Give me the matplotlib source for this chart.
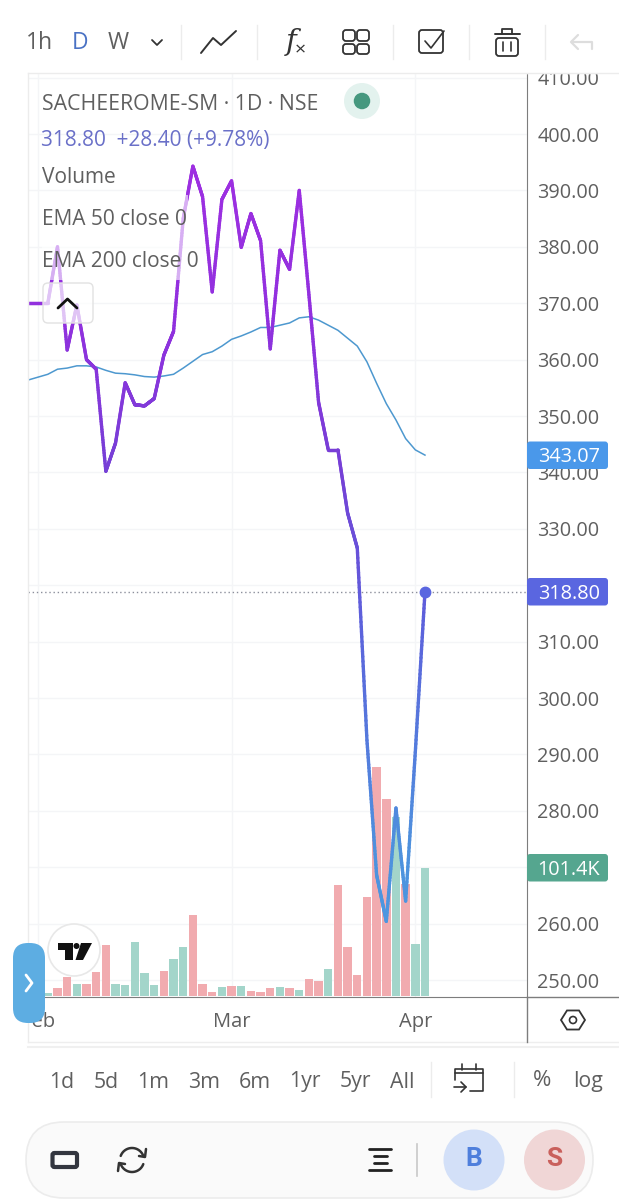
import numpy as np
import matplotlib
matplotlib.use("Agg")
import matplotlib.pyplot as plt
from matplotlib.collections import LineCollection
from matplotlib.colors import LinearSegmentedColormap
from matplotlib.patches import Circle, Ellipse, FancyBboxPatch, Polygon, Rectangle

plt.rcParams['font.family'] = ['Open Sans', 'Noto Sans', 'DejaVu Sans']

W, H = 619, 1200

# trading day index, 0 is the last bar
price_days = np.arange(-41, 1)
close = [370, 370, 370, 380, 361.7, 369.7, 360, 358.3, 340.2, 345.2, 355.9, 352, 351.8, 353.1,
         360.8, 365, 385, 394.3, 388.9, 372, 388.4, 391.7, 379.9, 385.9, 381.1, 361.9, 379.4,
         376, 390, 371.5, 352.4, 344, 344, 332.8, 326.6, 292.5, 268.6, 260.4, 280.5, 264,
         290.4, 318.8]
ema = [356.4, 356.9, 357.4, 358.3, 358.5, 358.9, 358.9, 358.7, 358.1, 357.6, 357.5, 357.3, 357,
       356.9, 357.1, 357.4, 358.5, 359.7, 360.9, 361.4, 362.4, 363.6, 364.2, 364.9, 365.7, 365.7,
       366.1, 366.5, 367.4, 367.6, 367, 366.1, 365.2, 363.8, 362.4, 359.6, 355.8, 352.2, 349.3,
       346, 344, 343.07]

volume_days = np.arange(-39, 1)
volume_k = [2.6, 6.1, 15.3, 9.5, 9.5, 19.3, 40.4, 9.5, 8.7, 42.8, 18.2, 8.7, 19.8, 29.1, 38.6,
            64.2, 9.5, 3.2, 6.9, 7.7, 8.2, 4, 3.2, 6.3, 6.9, 6.3, 5, 13.5, 11.9, 21.4, 88.2,
            39.1, 16.4, 78.2, 181.7, 156.3, 141.6, 88.5, 41, 101.4]
volume_up = [1, 0, 0, 1, 0, 0, 0, 1, 1, 1, 1, 1, 0, 1, 1, 0, 0, 0, 1, 0, 1, 0, 0, 0, 1, 0, 1, 0,
             0, 1, 0, 0, 0, 0, 0, 0, 1, 0, 1, 1]

price_ticks = np.arange(250, 420, 10)
hidden_ticks = [270, 320]  # these sit right under the value tags
month_days = [-40, -20, -1]
month_labels = ["Feb", "Mar", "Apr"]
last_price = 318.80
ema_last = 343.07
last_volume = "101.4K"

range_labels = ["1d", "5d", "1m", "3m", "6m", "1yr", "5yr", "All"]
range_x = [62, 106, 153, 204, 255, 305, 355, 402]
legend_rows = ["Volume", "EMA 50 close 0", "EMA 200 close 0"]

TEXT = "#5f5f5f"
GRID = "#f4f5f7"
UP = "#a3d5ca"
DOWN = "#f1abaf"

fig = plt.figure(figsize=(W / 100, H / 100), dpi=100, facecolor="white")


def rect_for(left, top, right, bottom):
    return [left / W, 1 - bottom / H, (right - left) / W, (bottom - top) / H]


ax = fig.add_axes(rect_for(28, 73, 527, 997))
price_lim = (246.99, 410.82)
day_lim = (-41.05, 10.55)
ax.set_xlim(*day_lim)
ax.set_ylim(*price_lim)

# volume pane shares the bottom of the chart
ax_vol = ax.twinx()
ax_vol.set_ylim(-0.8, 731.4)
ax_vol.bar(volume_days, volume_k, width=0.87,
           color=[UP if u else DOWN for u in volume_up], linewidth=0)
ax_vol.axis("off")

ax_line = ax.twinx()
ax_line.set_ylim(*price_lim)
ax_line.axis("off")
ax_line.axhline(last_price, color="#8c8f9c", linewidth=1, linestyle=(0, (1, 2)))
ax_line.plot(price_days, ema, color="#4d98cf", linewidth=1.1)

# twinx moves the ticks to the left, so the price scale is set up after it
ax.set_yticks(price_ticks)
ax.set_yticklabels(["" if p in hidden_ticks else f"{p:.2f}" for p in price_ticks])
ax.yaxis.tick_right()
ax.set_xticks(month_days)
ax.set_xticklabels(month_labels, fontweight="medium")
ax.tick_params(axis="y", length=0, pad=7.5, labelsize=14.3, labelcolor=TEXT)
ax.tick_params(axis="x", length=0, pad=10.5, labelsize=14.5, labelcolor=TEXT)
ax.grid(True, color=GRID, linewidth=1)
ax.set_axisbelow(True)
for side in ["top", "left"]:
    ax.spines[side].set_visible(False)
ax.spines["right"].set_color("#7d7d7d")
ax.spines["bottom"].set_color("#7d7d7d")

# the close line fades from purple to blue going down the chart
close_cmap = LinearSegmentedColormap.from_list(
    "close", [(0, "#4a9ce3"), (0.16, "#4e90dd"), (0.42, "#5c62dc"), (0.6, "#7540d6"),
              (0.78, "#9130de"), (1, "#a02fe2")])
fine_days = np.linspace(price_days[0], price_days[-1], 1600)
fine_close = np.interp(fine_days, price_days, close)
pts = np.column_stack([fine_days, fine_close]).reshape(-1, 1, 2)
segs = np.concatenate([pts[:-1], pts[1:]], axis=1)
lc = LineCollection(segs, cmap=close_cmap, linewidth=2.4, capstyle="round")
lc.set_array((fine_close[:-1] - 250) / 150)
lc.set_clim(0, 1)
ax_line.add_collection(lc)
ax_line.plot(price_days[-1], close[-1], "o", color="#5a66e0", markersize=7.5, zorder=5)

# everything around the chart is drawn in screen pixels
ui = fig.add_axes([0, 0, 1, 1], facecolor="none")
ui.set_xlim(0, W)
ui.set_ylim(H, 0)
ui.axis("off")

ui.add_patch(Rectangle((0, 0), W, 73, color="white", zorder=1))
ui.add_patch(Rectangle((0, 1005), 32, 35, color="white", lw=0, zorder=1))  # Feb is cut here
ui.plot([28, W], [73, 73], color="#ececec", lw=1, zorder=2)
ui.plot([28, 28], [73, 1042], color="#ececec", lw=1, zorder=2)
ui.plot([28, W], [1042, 1042], color="#eeeeee", lw=1, zorder=2)
ui.plot([28, W], [1047, 1047], color="#f0f0f0", lw=1.5, zorder=2)
ui.plot([527, 527], [997, 1042], color="#7d7d7d", lw=1, zorder=2)
ui.plot([527, W], [997, 997], color="#7d7d7d", lw=1, zorder=2)


def label(x, y, s, color=TEXT, size=14, ha="center", **kw):
    ui.text(x, y, s, color=color, fontsize=size, ha=ha, va="center", zorder=8, **kw)


def stroke(xs, ys, color="#333333", lw=1.6, **kw):
    ui.plot(xs, ys, color=color, lw=lw, solid_capstyle="round", solid_joinstyle="round", zorder=8, **kw)


def rounded(x0, y0, x1, y1, r, fc="none", ec="#333333", lw=1.5, z=8, alpha=None):
    ui.add_patch(FancyBboxPatch((x0 + r, y0 + r), x1 - x0 - 2 * r, y1 - y0 - 2 * r,
                                boxstyle=f"round,pad={r}", fc=fc, ec=ec, lw=lw, zorder=z, alpha=alpha))


# legend rows wash out the line behind them
ui.add_patch(Rectangle((42, 195), 146, 42, color="white", alpha=0.62, lw=0, zorder=3))
ui.add_patch(Rectangle((42, 237), 160, 43, color="white", alpha=0.62, lw=0, zorder=3))
rounded(43, 283, 93, 323, 5, fc=(1, 1, 1, 0.72), ec="#e2e2e2", lw=1, z=4)
stroke([58, 67.5, 77], [308, 299, 308], color="#111111", lw=2)

label(42, 104, "SACHEEROME-SM · 1D · NSE", ha="left", size=15.3)
label(41, 140.5, "318.80  +28.40 (+9.78%)", color="#6a70c8", ha="left", size=15)
for row, y in zip(legend_rows, [177.5, 219.5, 261.5]):
    label(42, y, row, ha="left", size=15)
ui.add_patch(Ellipse((362, 101), 36, 36, fc="#e3f2ee", ec="none", zorder=6))
ui.add_patch(Ellipse((362, 101), 16.5, 16.5, fc="#46987f", ec="none", zorder=7))

# price and volume tags
for top, bottom, color, s in [(441.5, 469, "#4a98ea", f"{ema_last:.2f}"),
                              (578, 605.5, "#5a66e0", f"{last_price:.2f}"),
                              (854, 881.5, "#55a68f", last_volume)]:
    rounded(527, top, 608, bottom, 3, fc=color, ec="none", z=6)
    label(569, (top + bottom) / 2 + 2, s, color="white", size=14.3)

# top toolbar
label(39, 43, "1h", size=16.5)
label(80, 43, "D", color="#4a72c4", size=16.5)
label(118, 43, "W", size=16.5)
stroke([152, 157, 162], [40, 45, 40], lw=1.3)
for x in [181, 257, 393, 469, 545]:
    ui.plot([x, x], [25, 59], color="#ececec", lw=1, zorder=8)
stroke([201, 213, 221, 236], [53, 38, 45, 31], lw=1.4)
ui.text(291, 42, "f", fontsize=21, style="italic", color="#333333", ha="center", va="center",
        family="DejaVu Serif", zorder=8)
label(300, 50, "×", color="#333333", size=14)
for x0, x1 in [(343, 355), (357, 369)]:
    for y0, y1 in [(30, 41), (44, 54)]:
        rounded(x0, y0, x1, y1, 3, lw=1.3)
rounded(419, 30, 443, 53, 3, lw=1.3)
stroke([425, 431, 444], [41, 48, 31], lw=1.2)
rounded(496, 38, 518, 56, 3, lw=1.3)
stroke([494.5, 519.5], [34, 34], lw=1.4)
stroke([502, 502, 512, 512], [34, 29, 29, 34], lw=1.3)
stroke([503, 503], [42, 51], lw=1.2)
stroke([511, 511], [42, 51], lw=1.2)
stroke([572, 592, 592], [42, 42, 49], color="#dddddd")
stroke([578, 571, 578], [35, 42, 49], color="#dddddd")

# left tab and logo sit on top of the axis labels
rounded(13, 943, 45, 1023, 15, fc="#5dade2", ec="none", z=7)
stroke([26, 32, 26], [975, 983, 991], color="white", lw=2)
ui.add_patch(Circle((74, 950), 26, fc="white", ec="#e8e8e8", lw=1.2, zorder=6))
ui.add_patch(Polygon([(57.5, 943), (72.5, 943), (72.5, 960), (64.5, 960), (64.5, 950), (57.5, 950)],
                     fc="#111111", ec="none", zorder=7))
ui.add_patch(Circle((76.5, 946), 3, fc="#111111", ec="none", zorder=7))
ui.add_patch(Polygon([(81, 943), (92, 943), (83, 960), (75.5, 960)], fc="#111111", ec="none", zorder=7))

# settings nut on the time axis
ang = np.deg2rad(np.arange(0, 360, 60))
ui.add_patch(Polygon(np.column_stack([573 + 12 * np.cos(ang), 1020 + 11 * np.sin(ang)]),
                     fc="none", ec="#333333", lw=1.3, zorder=8))
ui.add_patch(Circle((573, 1020), 3.5, fc="none", ec="#333333", lw=1.2, zorder=8))

# range row
for s, x in zip(range_labels, range_x):
    label(x, 1082, s, size=15.3)
ui.plot([431, 431], [1062, 1097], color="#ececec", lw=1, zorder=8)
ui.plot([514, 514], [1062, 1097], color="#ececec", lw=1, zorder=8)
stroke([455, 455, 483, 483, 470], [1080, 1069, 1069, 1091, 1091], lw=1.2)
stroke([455, 483], [1073, 1073], lw=1.2)
stroke([462, 462], [1064, 1070], lw=1.2)
stroke([476, 476], [1064, 1070], lw=1.2)
stroke([454, 466], [1087, 1087], lw=1.2)
stroke([461, 466, 461], [1082, 1087, 1092], lw=1.2)
label(542, 1081, "%", size=16)
label(588, 1082, "log", size=15.3)

# bottom bar
rounded(26, 1122, 593, 1198, 38, fc="#fafafa", ec="#ececec", lw=1.2, z=2)
rounded(52.5, 1153, 77, 1167, 2, fc="none", ec="#33363f", lw=3)
t = np.linspace(np.deg2rad(200), np.deg2rad(340), 30)
stroke(132 + 12 * np.cos(t), 1160 + 12 * np.sin(t), lw=1.8)
stroke(132 - 12 * np.cos(t), 1160 - 12 * np.sin(t), lw=1.8)
stroke([146, 145, 139], [1149, 1157, 1156], lw=1.8)
stroke([118, 119, 125], [1171, 1163, 1164], lw=1.8)
for y, half in [(1149, 11), (1156, 6.5), (1163, 6.5), (1170, 11)]:
    stroke([380 - half, 380 + half], [y, y], color="#222222", lw=2)
ui.plot([417, 417], [1144, 1176], color="#c8c8c8", lw=1.2, zorder=8)
ui.add_patch(Ellipse((474, 1160), 61, 61, fc="#d3e0f8", ec="none", zorder=7))
ui.add_patch(Ellipse((554.5, 1160), 61, 61, fc="#f0d6d6", ec="none", zorder=7))
label(474, 1159, "B", color="#4f7fdc", size=19, fontweight="bold", family="Roboto")
label(554.5, 1159, "S", color="#c9605c", size=19, fontweight="bold", family="Roboto")

fig.savefig("out.png", dpi=100)
